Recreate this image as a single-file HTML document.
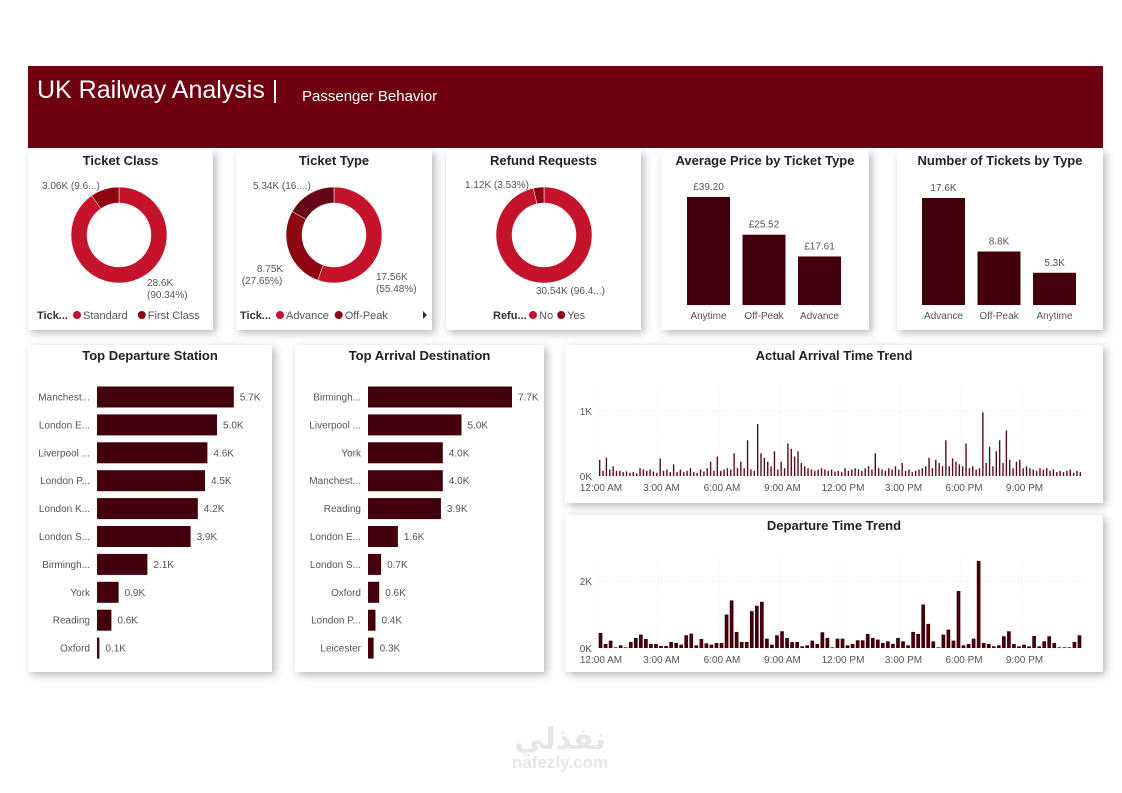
<!DOCTYPE html>
<html><head><meta charset="utf-8"><style>
body{margin:0;width:1122px;height:793px;background:#fff;font-family:"Liberation Sans",sans-serif;position:relative;overflow:hidden}
.card{position:absolute;background:#fff;box-shadow:3px 3px 8px rgba(0,0,0,.28)}
.t{position:absolute;left:0;right:0;text-align:center;font-weight:bold;font-size:13px;color:#222;top:3px}
svg text{font-family:"Liberation Sans",sans-serif}
</style></head><body>
<div style="position:absolute;left:28px;top:66px;width:1075px;height:82px;background:#6e0010">
<span style="position:absolute;left:9px;top:10px;color:#fff;font-size:25px">UK Railway Analysis |</span>
<span style="position:absolute;left:274px;top:22px;color:#fff;font-size:15px">Passenger Behavior</span>
</div>
<div class="card" style="left:28px;top:150px;width:185px;height:180px"><div class="t">Ticket Class</div></div>
<div class="card" style="left:236px;top:150px;width:196px;height:180px"><div class="t">Ticket Type</div></div>
<div class="card" style="left:446px;top:150px;width:195px;height:180px"><div class="t">Refund Requests</div></div>
<div class="card" style="left:661px;top:150px;width:208px;height:180px"><div class="t">Average Price by Ticket Type</div></div>
<div class="card" style="left:897px;top:150px;width:206px;height:180px"><div class="t">Number of Tickets by Type</div></div>
<div class="card" style="left:28px;top:345px;width:244px;height:327px"><div class="t">Top Departure Station</div></div>
<div class="card" style="left:295px;top:345px;width:249px;height:327px"><div class="t">Top Arrival Destination</div></div>
<div class="card" style="left:565px;top:345px;width:538px;height:158px"><div class="t">Actual Arrival Time Trend</div></div>
<div class="card" style="left:565px;top:515px;width:538px;height:157px"><div class="t">Departure Time Trend</div></div>
<div style="position:absolute;left:480px;top:722px;width:160px;text-align:center;color:#e6e6e6;font-size:30px;font-weight:bold;font-family:'Liberation Sans','DejaVu Sans',sans-serif">نفذلي<div style="font-size:17px;margin-top:-4px">nafezly.com</div></div>
<svg id="s" width="1122" height="793" style="position:absolute;left:0;top:0"></svg>
<script>
const classCats=["Standard","First Class"];const classVals=[28.6,3.06];
const typeCats=["Advance","Off-Peak","Anytime"];const typeVals=[17.56,8.75,5.34];
const refundCats=["No","Yes"];const refundVals=[30.54,1.12];
const priceCats=["Anytime","Off-Peak","Advance"];const priceVals=[39.20,25.52,17.61];
const countCats=["Advance","Off-Peak","Anytime"];const countVals=[17.6,8.8,5.3];
const depCats=["Manchest...","London E...","Liverpool ...","London P...","London K...","London S...","Birmingh...","York","Reading","Oxford"];
const depVals=[5.7,5.0,4.6,4.5,4.2,3.9,2.1,0.9,0.6,0.1];
const arrCats=["Birmingh...","Liverpool ...","York","Manchest...","Reading","London E...","London S...","Oxford","London P...","Leicester"];
const arrVals=[7.7,5.0,4.0,4.0,3.9,1.6,0.7,0.6,0.4,0.3];
const timeTicks=["12:00 AM","3:00 AM","6:00 AM","9:00 AM","12:00 PM","3:00 PM","6:00 PM","9:00 PM"];
const depTrend=[0.45,0.12,0.22,0.02,0.08,0.02,0.18,0.3,0.4,0.27,0.12,0.12,0.06,0.06,0.18,0.15,0.1,0.38,0.43,0.08,0.27,0.14,0.1,0.15,0.15,1.0,1.42,0.48,0.18,0.18,1.1,1.26,1.38,0.28,0.1,0.38,0.5,0.3,0.18,0.18,0.05,0.08,0.22,0.12,0.47,0.3,0.02,0.28,0.28,0.08,0.12,0.23,0.23,0.42,0.3,0.25,0.15,0.2,0.12,0.3,0.2,0.08,0.48,0.42,1.3,0.72,0.2,0.02,0.4,0.55,0.22,1.7,0.08,0.12,0.28,2.6,0.15,0.12,0.05,0.08,0.35,0.5,0.12,0.05,0.1,0.05,0.36,0.05,0.2,0.35,0.15,0.02,0.02,0.02,0.18,0.38];
const arrTrend=[.25,.08,.28,.1,.15,.08,.08,.06,.07,.05,.06,.04,.12,.1,.08,.1,.07,.05,.27,.08,.1,.06,.18,.06,.1,.06,.08,.12,.06,.05,.1,.07,.12,.22,.08,.3,.08,.1,.12,.1,.35,.12,.22,.12,.55,.1,.08,.8,.35,.28,.22,.15,.38,.1,.22,.12,.5,.42,.3,.38,.2,.15,.12,.1,.08,.1,.12,.1,.08,.1,.07,.08,.06,.12,.08,.1,.12,.1,.08,.12,.15,.1,.35,.12,.1,.08,.12,.1,.15,.1,.2,.08,.1,.06,.08,.1,.12,.15,.28,.12,.25,.2,.15,.55,.15,.27,.22,.18,.15,.5,.12,.15,.1,.12,.98,.2,.45,.15,.38,.55,.2,.7,.25,.12,.22,.25,.12,.15,.12,.1,.08,.12,.1,.12,.08,.1,.06,.08,.06,.08,.1,.05,.08,.06];
const S=document.getElementById('s');const NS="http://www.w3.org/2000/svg";
function el(t,a,txt){const e=document.createElementNS(NS,t);for(const k in a)e.setAttribute(k,a[k]);if(txt!=null)e.textContent=txt;S.appendChild(e);return e}
function txt(x,y,s,anchor,size,col,name){const e=el('text',{x:x,y:y,'text-anchor':anchor||'middle','font-size':size||10,fill:col||'#555'},s);

return e}
function donut(cx,cy,vals,cols,name){const tot=vals.reduce((a,b)=>a+b,0);let a0=0;const R=48,r=32;
vals.forEach((v,i)=>{const a1=a0+v/tot*2*Math.PI;const p=(a,rr)=>[cx+rr*Math.sin(a),cy-rr*Math.cos(a)];
const [x1,y1]=p(a0,R),[x2,y2]=p(a1,R),[x3,y3]=p(a1,r),[x4,y4]=p(a0,r);const lg=a1-a0>Math.PI?1:0;
const e=el('path',{d:`M${x1} ${y1}A${R} ${R} 0 ${lg} 1 ${x2} ${y2}L${x3} ${y3}A${r} ${r} 0 ${lg} 0 ${x4} ${y4}Z`,fill:cols[i],stroke:'#fff','stroke-width':0.5});

a0=a1;});}
function legend(x,y,title,cats,cols,name){txt(x,y,title,'start',11,'#333',name+'-title').setAttribute('font-weight','bold');let cx=x+36;
cats.forEach((c,i)=>{const d=el('circle',{cx:cx+4,cy:y-4,r:4,fill:cols[i]});
txt(cx+10,y,c,'start',11,'#555',name+'-entry');cx+=10+c.length*6.1+6;});}
const red="#c4132b",dk="#8e0612",dk2="#650718";
donut(119,235,classVals,[red,dk],'ticket-class');
txt(42,189,"3.06K (9.6...)",'start',10,'#555','ticket-class-label-first');txt(147,286,"28.6K",'start',10,'#555','ticket-class-label-std');txt(147,298,"(90.34%)",'start',10,'#555','ticket-class-label-std-pct');
legend(37,319,"Tick...",classCats,[red,dk],'ticket-class-legend');
donut(334,235,typeVals,[red,dk,dk2],'ticket-type');
txt(253,189,"5.34K (16....)",'start',10,'#555','ticket-type-label-anytime');txt(270,272,"8.75K",'middle',10,'#555','ticket-type-label-offpeak');txt(262,284,"(27.65%)",'middle',10,'#555','');
txt(376,280,"17.56K",'start',10,'#555','ticket-type-label-advance');txt(376,292,"(55.48%)",'start',10,'#555','');
legend(240,319,"Tick...",typeCats.slice(0,2),[red,dk],'ticket-type-legend');
el('path',{d:'M423 311l4 4-4 4z',fill:'#333'});
donut(544,235,refundVals,[red,dk],'refund');
txt(465,188,"1.12K (3.53%)",'start',10,'#555','refund-label-yes');txt(536,294,"30.54K (96.4...)",'start',10,'#555','refund-label-no');
legend(493,319,"Refu...",refundCats,[red,dk],'refund-legend');
function vbars(x0,step,base,cats,vals,max,h,fmt,name){vals.forEach((v,i)=>{const bh=v/max*h,x=x0+i*step;
const r=el('rect',{x:x,y:base-bh,width:43,height:bh,fill:'#43000c'});
txt(x+21.5,base-bh-7,fmt(v),'middle',10,'#555',name+'-value');txt(x+21.5,base+14,cats[i],'middle',10,'#555',name+'-category');});}
vbars(687,55.5,305,priceCats,priceVals,39.2,108,v=>"£"+v.toFixed(2),'avg-price');
vbars(922,55.5,305,countCats,countVals,17.6,107,v=>v.toFixed(1)+"K",'ticket-count');
function hbars(x0,cats,vals,scale,name){vals.forEach((v,i)=>{const cy=397+i*27.9,w=v*scale;
const r=el('rect',{x:x0,y:cy-10.5,width:w,height:21,fill:'#43000c'});
txt(x0-7,cy+3.5,cats[i],'end',10,'#555',name+'-category');txt(x0+w+6,cy+3.5,v.toFixed(1)+"K",'start',10,'#555',name+'-value');});}
hbars(97,depCats,depVals,24,'departure-station');
hbars(368,arrCats,arrVals,18.7,'arrival-destination');
function trend(x0,x1,base,pxPerK,vals,ticks,tickLbl,barW,col,name){const n=vals.length,step=(x1-x0)/n;
ticks.forEach((k,i)=>{const y=base-k*pxPerK;const g=el('line',{x1:x0,x2:x1,y1:y,y2:y,stroke:'#e4e4e4','stroke-dasharray':'1 2'});
txt(x0-6,y+4,tickLbl[i],'end',10,'#555',name+'-y-tick');});
for(let h=0;h<8;h++){const x=x0+h*(x1-x0)/8;el('line',{x1:x,x2:x,y1:base-90,y2:base,stroke:'#eee','stroke-dasharray':'1 2'});
txt(x+3,base+15,timeTicks[h],'middle',10,'#555',name+'-x-tick');}
vals.forEach((v,i)=>{const bh=v*pxPerK;const r=el('rect',{x:x0+i*step+(step-barW)/2,y:base-bh,width:barW,height:bh,fill:col});

});}
trend(598,1082,476,65,arrTrend,[0,1],["0K","1K"],1.4,'#5a0a18','arrival-trend');
trend(598,1082,648,33.5,depTrend,[0,2],["0K","2K"],3.7,'#43000c','departure-trend');
</script>
</body></html>
